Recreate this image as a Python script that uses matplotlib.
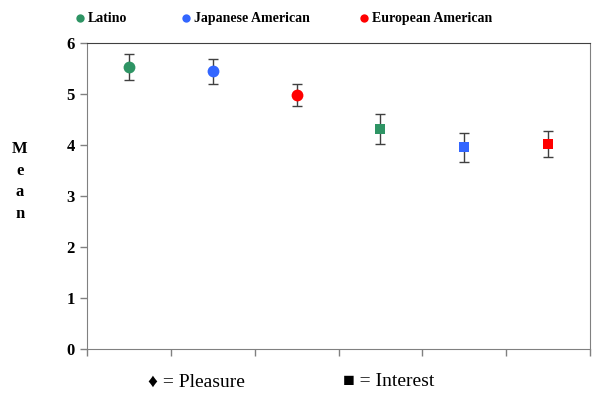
import matplotlib
matplotlib.use("Agg")
import matplotlib.pyplot as plt
from matplotlib.lines import Line2D

plt.rcParams['font.family'] = ['Liberation Serif', 'DejaVu Serif']

# data
groups = ["Latino", "Japanese American", "European American"]
colors = ["#2e9464", "#3366ff", "#ff0000"]
pleasure_mean = [5.53, 5.45, 4.98]
pleasure_lo = [5.28, 5.20, 4.76]
pleasure_hi = [5.78, 5.69, 5.20]
interest_mean = [4.31, 3.96, 4.02]
interest_lo = [4.02, 3.67, 3.76]
interest_hi = [4.61, 4.24, 4.27]
pleasure_x = [0.5, 1.5, 2.5]
interest_x = [3.5, 4.5, 5.5]
y_ticks = [0, 1, 2, 3, 4, 5, 6]

fig = plt.figure(figsize=(6.01, 4.08), dpi=100)
ax = fig.add_axes([0.1448, 0.1446, 0.837, 0.75])

for i in range(3):
    # error bars first (caps need their own edge width), then the markers
    ax.errorbar(pleasure_x[i], pleasure_mean[i],
                yerr=[[pleasure_mean[i] - pleasure_lo[i]], [pleasure_hi[i] - pleasure_mean[i]]],
                fmt='none', ecolor='#404040', elinewidth=1, capsize=3.5, capthick=1, zorder=2)
    ax.plot(pleasure_x[i], pleasure_mean[i], 'o', color=colors[i], markersize=8.5,
            markeredgewidth=0, zorder=3)
    ax.errorbar(interest_x[i], interest_mean[i],
                yerr=[[interest_mean[i] - interest_lo[i]], [interest_hi[i] - interest_mean[i]]],
                fmt='none', ecolor='#404040', elinewidth=1, capsize=3.5, capthick=1, zorder=2)
    ax.plot(interest_x[i], interest_mean[i], 's', color=colors[i], markersize=7.5,
            markeredgewidth=0, zorder=3)

ax.set_xlim(0, 6)
ax.set_ylim(0, 6)
ax.set_xticks(range(7))
ax.set_xticklabels([])
ax.set_yticks(y_ticks)
ax.set_yticklabels([str(t) for t in y_ticks], fontsize=12, fontweight='bold')
ax.tick_params(axis='both', direction='out', length=5, color='#808080', width=1)
ax.tick_params(axis='y', pad=4)
for side in ['left', 'bottom', 'right']:
    ax.spines[side].set_color('#808080')
ax.spines['top'].set_color('#404040')

# vertical "Mean" label, one letter per line
fig.text(0.033, 0.555, "M\ne\na\nn", ha='center', va='center', fontsize=12,
         fontweight='bold', linespacing=1.45)

# top legend, placed by hand
legend_x = [0.133, 0.309, 0.606]
legend_y = 0.955
for gx, c, name in zip(legend_x, colors, groups):
    fig.add_artist(Line2D([gx], [legend_y], marker='o', linestyle='none', color=c,
                          markersize=6, markeredgewidth=0, transform=fig.transFigure))
    fig.text(gx + 0.013, legend_y, name, fontsize=10, fontweight='bold',
             ha='left', va='center')

fig.text(0.246, 0.064, "\u2666 = Pleasure", fontsize=14, ha='left', va='center')
fig.text(0.571, 0.064, "\u25a0 = Interest", fontsize=14, ha='left', va='center')

fig.savefig("out.png", dpi=100)
